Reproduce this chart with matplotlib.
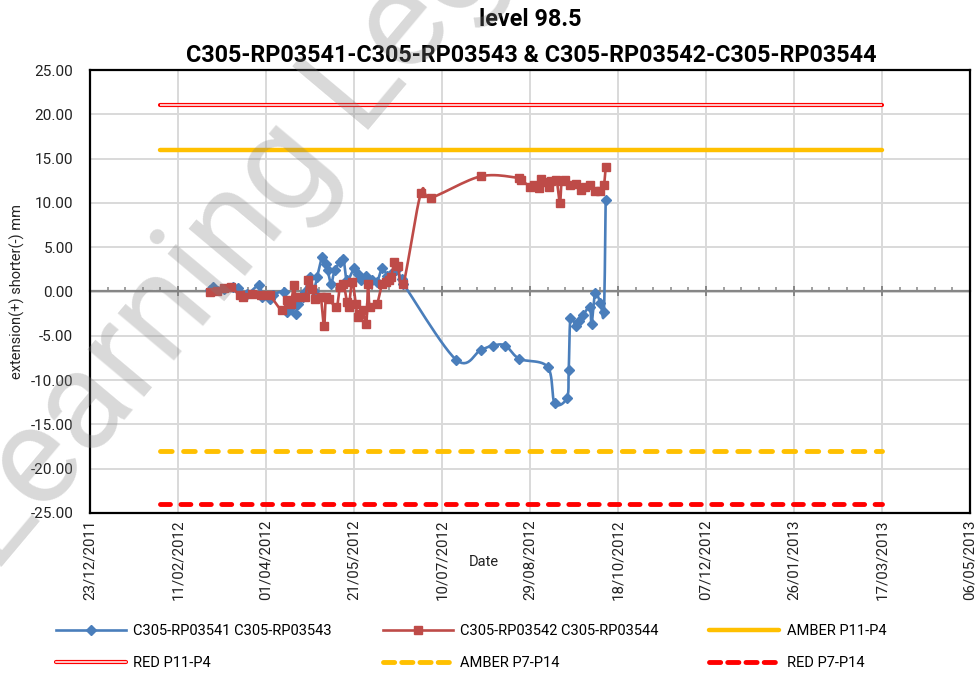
import matplotlib
matplotlib.use("Agg")
import matplotlib.pyplot as plt
import matplotlib.dates as mdates
from matplotlib.ticker import FixedLocator, FuncFormatter
from matplotlib.legend_handler import HandlerTuple
from matplotlib.lines import Line2D
import numpy as np
import pandas as pd

plt.rcParams["font.family"] = ["Roboto", "DejaVu Sans"]

# --- data ---
blue_label = "C305-RP03541 C305-RP03543"
blue_dates = [
    "29/02/2012", "02/03/2012", "08/03/2012", "13/03/2012", "16/03/2012", "21/03/2012",
    "28/03/2012", "30/03/2012", "03/04/2012", "05/04/2012", "11/04/2012", "13/04/2012",
    "15/04/2012", "18/04/2012", "19/04/2012", "22/04/2012", "23/04/2012", "26/04/2012",
    "28/04/2012", "30/04/2012", "03/05/2012", "05/05/2012", "06/05/2012", "08/05/2012",
    "10/05/2012", "13/05/2012", "15/05/2012", "17/05/2012", "21/05/2012", "23/05/2012",
    "25/05/2012", "28/05/2012", "31/05/2012", "03/06/2012", "06/06/2012", "09/06/2012",
    "11/06/2012", "14/06/2012", "17/06/2012", "18/06/2012", "18/07/2012", "01/08/2012",
    "08/08/2012", "15/08/2012", "23/08/2012", "08/09/2012", "12/09/2012", "19/09/2012",
    "20/09/2012", "21/09/2012", "24/09/2012", "26/09/2012", "28/09/2012", "02/10/2012",
    "03/10/2012", "05/10/2012", "08/10/2012", "10/10/2012", "11/10/2012",
]
blue_values = [
    0.2, 0.55, 0.3, 0.5, 0.45, -0.3,
    0.7, -0.6, -0.9, -0.45, -0.1, -2.3,
    -1.8, -2.5, -1.4, -0.6, -0.1, 1.6,
    0.1, 1.6, 3.9, 3.1, 2.4, 0.9,
    2.4, 3.3, 3.7, 1.25, 2.6, 2.0,
    1.25, 1.8, 1.25, 1.05, 2.6, 1.8,
    2.0, 2.4, 1.4, 0.9, -7.7, -6.6,
    -6.1, -6.1, -7.6, -8.5, -12.6, -12.0,
    -8.9, -3.0, -3.95, -3.3, -2.7, -1.8,
    -3.7, -0.2, -1.3, -2.3, 10.3,
]

red_label = "C305-RP03542 C305-RP03544"
red_dates = [
    "29/02/2012", "04/03/2012", "08/03/2012", "12/03/2012", "17/03/2012", "19/03/2012",
    "24/03/2012", "29/03/2012", "03/04/2012", "10/04/2012", "13/04/2012", "15/04/2012",
    "17/04/2012", "18/04/2012", "23/04/2012", "25/04/2012", "27/04/2012", "29/04/2012",
    "02/05/2012", "04/05/2012", "05/05/2012", "07/05/2012", "11/05/2012", "13/05/2012",
    "15/05/2012", "17/05/2012", "18/05/2012", "20/05/2012", "22/05/2012", "23/05/2012",
    "24/05/2012", "26/05/2012", "28/05/2012", "29/05/2012", "30/05/2012", "03/06/2012",
    "06/06/2012", "08/06/2012", "10/06/2012", "11/06/2012", "13/06/2012", "15/06/2012",
    "18/06/2012", "28/06/2012", "04/07/2012", "01/08/2012", "23/08/2012", "24/08/2012",
    "29/08/2012", "31/08/2012", "03/09/2012", "04/09/2012", "06/09/2012", "09/09/2012",
    "10/09/2012", "13/09/2012", "15/09/2012", "16/09/2012", "18/09/2012", "21/09/2012",
    "24/09/2012", "27/09/2012", "29/09/2012", "02/10/2012", "05/10/2012", "08/10/2012",
    "10/10/2012", "11/10/2012",
]
red_values = [
    0.0, 0.1, 0.4, 0.5, -0.45, -0.6,
    -0.3, -0.45, -0.45, -2.1, -1.0, -1.4,
    0.7, -0.6, -0.6, 1.3, 0.3, -0.8,
    -0.6, -3.95, -0.6, -0.8, -1.8, 0.5,
    0.9, -1.2, -1.8, 1.05, -1.4, -2.9,
    -2.5, -2.1, -3.65, 0.9, -1.8, -1.4,
    0.9, 1.05, 1.25, 1.6, 3.3, 2.9,
    0.8, 11.1, 10.6, 13.0, 12.8, 12.6,
    11.85, 12.0, 11.7, 12.7, 12.4, 11.8,
    12.5, 12.6, 10.0, 12.5, 12.6, 12.0,
    12.15, 11.5, 11.8, 12.0, 11.3, 11.3,
    12.05, 14.0,
]

limit_dates = ["01/02/2012", "17/03/2013"]
amber_p11_p4 = [16.0, 16.0]
red_p11_p4 = [21.0, 21.0]
amber_p7_p14 = [-18.0, -18.0]
red_p7_p14 = [-24.0, -24.0]

title_lines = ["level 98.5", "C305-RP03541-C305-RP03543 & C305-RP03542-C305-RP03544"]
x_start, x_end = "23/12/2011", "06/05/2013"
y_ticks = [-25, -20, -15, -10, -5, 0, 5, 10, 15, 20, 25]


def to_num(dates):
    return mdates.date2num(pd.to_datetime(dates, format="%d/%m/%Y"))


X0, X1 = to_num([x_start, x_end])
Y0, Y1 = -25.0, 25.0
PW, PH = 880.0, 443.0  # plot area size in px, for screen-space smoothing


def smooth(xd, yd, n=14):
    # Excel-like smoothed line: cubic Bezier through the points (Catmull-Rom)
    px = (np.asarray(xd) - X0) / (X1 - X0) * PW
    py = (np.asarray(yd) - Y0) / (Y1 - Y0) * PH
    P = np.column_stack([px, py])
    Pe = np.vstack([P[0], P, P[-1]])
    t = np.linspace(0, 1, n)[:-1, None]
    out = []
    for i in range(len(P) - 1):
        p0, p3 = Pe[i + 1], Pe[i + 2]
        c1 = p0 + (Pe[i + 2] - Pe[i]) / 6.0
        c2 = p3 - (Pe[i + 3] - Pe[i + 1]) / 6.0
        seg = ((1 - t) ** 3) * p0 + 3 * ((1 - t) ** 2) * t * c1 + 3 * (1 - t) * t ** 2 * c2 + t ** 3 * p3
        out.append(seg)
    out.append(P[-1][None, :])
    S = np.vstack(out)
    return S[:, 0] / PW * (X1 - X0) + X0, S[:, 1] / PH * (Y1 - Y0) + Y0


fig = plt.figure(figsize=(9.79, 6.74), dpi=100)
ax = fig.add_axes([90 / 979, 1 - 513 / 674, 880 / 979, 443 / 674])

BLUE = "#4A7EBB"
RED = "#BE4B48"
AMBER = "#FFC000"
BRIGHT_RED = "#FF0000"

bx, by = to_num(blue_dates), np.array(blue_values)
rx, ry = to_num(red_dates), np.array(red_values)

sbx, sby = smooth(bx, by)
srx, sry = smooth(rx, ry)
ax.plot(sbx, sby, color=BLUE, lw=1.9, zorder=3, solid_capstyle="round")
ax.plot(bx, by, ls="none", marker="D", ms=4.6, color=BLUE, zorder=3)
ax.plot(srx, sry, color=RED, lw=1.9, zorder=4, solid_capstyle="round")
ax.plot(rx, ry, ls="none", marker="s", ms=5.2, color=RED, zorder=4)

lx = to_num(limit_dates)
ax.plot(lx, amber_p11_p4, color=AMBER, lw=3.2, solid_capstyle="round", zorder=2.5)
ax.plot(lx, red_p11_p4, color=BRIGHT_RED, lw=3.0, solid_capstyle="round", zorder=2.5)
ax.plot(lx, red_p11_p4, color="white", lw=1.1, solid_capstyle="butt", zorder=2.6)
ax.plot(lx, amber_p7_p14, color=AMBER, lw=3.5, ls=(0, (2.4, 2.35)),
        dash_capstyle="round", zorder=2.5)
ax.plot(lx, red_p7_p14, color=BRIGHT_RED, lw=3.5, ls=(0, (2.05, 2.15)),
        dash_capstyle="round", zorder=2.5)

# axes, ticks and grid
major = X0 + 50 * np.arange(11)
minor = X0 + 10 * np.arange(51)
ax.set_xlim(X0, X1)
ax.set_ylim(Y0, Y1)
ax.set_xticks(major)
ax.xaxis.set_major_formatter(mdates.DateFormatter("%d/%m/%Y"))
ax.set_yticks(y_ticks)
ax.yaxis.set_major_formatter(FuncFormatter(lambda v, p: f"{v:.2f}"))
ax.tick_params(axis="x", length=0, pad=5, labelrotation=90, labelsize=10.8, colors="#222222")
ax.tick_params(axis="y", length=0, pad=12, labelsize=11, colors="#222222")
ax.grid(True, color="#D9D9D9", lw=1.4)
ax.set_axisbelow(True)
for sp in ax.spines.values():
    sp.set_color("black")
    sp.set_linewidth(1.6)

# horizontal value axis crossing at zero
sec = ax.secondary_xaxis(0.5)
sec.set_zorder(1.8)
sec.xaxis.set_major_locator(FixedLocator(major))
sec.xaxis.set_minor_locator(FixedLocator(minor))
sec.tick_params(which="major", direction="inout", length=7, width=1.4, color="#868686",
                labeltop=False, labelbottom=False)
sec.tick_params(which="minor", direction="out", length=3, width=1.1, color="#868686")
for sp in sec.spines.values():
    sp.set_color("#868686")
    sp.set_linewidth(1.6)

ax.set_ylabel("extension(+) shorter(-) mm", fontsize=10.5, labelpad=4, color="#222222")
fig.text(484 / 979, 1 - 562 / 674, "Date", ha="center", va="center", fontsize=10.5,
         color="#222222")

fig.text(530 / 979, 1 - 20 / 674, title_lines[0], ha="center", va="center",
         fontsize=16.8, fontweight="bold")
fig.text(531 / 979, 1 - 55 / 674, title_lines[1], ha="center", va="center",
         fontsize=16.8, fontweight="bold")

# legend
h_blue = Line2D([], [], color=BLUE, lw=1.9, marker="D", ms=4.6)
h_red = Line2D([], [], color=RED, lw=1.9, marker="s", ms=5.2)
h_amber = Line2D([], [], color=AMBER, lw=3.2, solid_capstyle="round")
h_redd = (Line2D([], [], color=BRIGHT_RED, lw=3.0, solid_capstyle="round"),
          Line2D([], [], color="white", lw=1.1))
h_amber2 = Line2D([], [], color=AMBER, lw=3.5, ls=(0, (2.3, 1.45)), dash_capstyle="round")
h_red2 = Line2D([], [], color=BRIGHT_RED, lw=3.5, ls=(0, (2.3, 1.45)), dash_capstyle="round")
handles = [h_blue, h_redd, h_red, h_amber2, h_amber, h_red2]
labels = [blue_label, "RED P11-P4", red_label, "AMBER P7-P14", "AMBER P11-P4", "RED P7-P14"]
fig.legend(handles, labels, ncol=3, loc="center", bbox_to_anchor=(471 / 979, 1 - 647 / 674),
           frameon=False, fontsize=10.5, handlelength=4.8, handletextpad=0.5,
           columnspacing=3.5, labelspacing=1.2, handler_map={tuple: HandlerTuple(ndivide=1)})

# faint watermark over the chart
fig.text(-5 / 979, 1 - 575 / 674, "Learning Legends", rotation=50, rotation_mode="anchor",
         ha="left", va="baseline", fontsize=100, color="gray", alpha=0.3, zorder=10)

fig.savefig("out.png", dpi=100)
